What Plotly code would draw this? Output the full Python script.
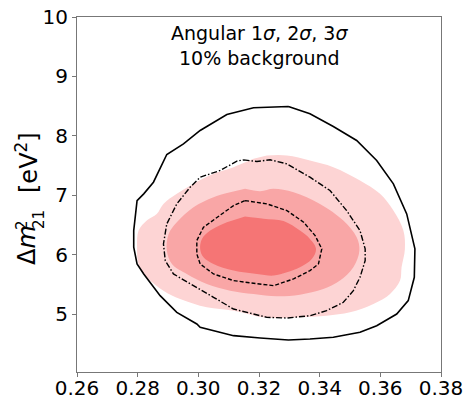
import plotly.graph_objects as go

# ---- data ----
outer_x = [0.3297, 0.3368, 0.3445, 0.3522, 0.3588, 0.3643, 0.3687, 0.3714, 0.3712, 0.3692, 0.3654, 0.3588,
           0.3533, 0.3445, 0.3368, 0.3297, 0.3204, 0.3116, 0.3006, 0.2995, 0.2929, 0.2874, 0.2820, 0.2798,
           0.2787, 0.2787, 0.2798, 0.2820, 0.2852, 0.2896, 0.2951, 0.3006, 0.3094, 0.3182, 0.3297]
outer_y = [8.496, 8.372, 8.159, 7.924, 7.587, 7.194, 6.689, 6.100, 5.623, 5.230, 5.005, 4.809,
           4.697, 4.613, 4.584, 4.568, 4.601, 4.641, 4.781, 4.837, 5.033, 5.314, 5.679, 5.847,
           6.128, 6.408, 6.913, 7.026, 7.222, 7.688, 7.867, 8.092, 8.361, 8.474, 8.496]

mid_x = [0.3149, 0.3193, 0.3237, 0.3292, 0.3368, 0.3434, 0.3489, 0.3533, 0.3550, 0.3550, 0.3533, 0.3511,
         0.3478, 0.3423, 0.3368, 0.3292, 0.3226, 0.3182, 0.3116, 0.3050, 0.2984, 0.2918, 0.2891, 0.2885,
         0.2896, 0.2929, 0.2973, 0.3006, 0.3072, 0.3127, 0.3149]
mid_y = [7.598, 7.570, 7.598, 7.531, 7.306, 7.082, 6.745, 6.408, 6.100, 5.904, 5.623, 5.398,
         5.202, 5.062, 4.977, 4.938, 4.949, 5.005, 5.089, 5.286, 5.482, 5.679, 5.903, 6.184,
         6.521, 6.857, 7.138, 7.306, 7.419, 7.576, 7.598]

inner_x = [0.3154, 0.3226, 0.3292, 0.3347, 0.3385, 0.3407, 0.3396, 0.3368, 0.3314, 0.3248, 0.3182, 0.3116,
           0.3050, 0.3006, 0.2995, 0.2995, 0.3017, 0.3061, 0.3116, 0.3154]
inner_y = [6.913, 6.857, 6.745, 6.549, 6.324, 6.100, 5.847, 5.735, 5.595, 5.482, 5.522, 5.567,
           5.679, 5.847, 6.016, 6.240, 6.465, 6.633, 6.829, 6.913]

fill3_x = [0.3226, 0.3292, 0.3368, 0.3445, 0.3533, 0.3599, 0.3643, 0.3676, 0.3681, 0.3670, 0.3665, 0.3632,
           0.3577, 0.3500, 0.3423, 0.3335, 0.3270, 0.3215, 0.3116, 0.3028, 0.2940, 0.2885, 0.2830, 0.2803,
           0.2798, 0.2803, 0.2830, 0.2863, 0.2885, 0.2929, 0.2984, 0.3050, 0.3116, 0.3182]
fill3_y = [7.671, 7.671, 7.587, 7.475, 7.250, 7.026, 6.745, 6.408, 6.100, 5.791, 5.567, 5.342,
           5.174, 5.033, 4.977, 4.949, 4.938, 4.949, 5.062, 5.118, 5.258, 5.398, 5.623, 5.847,
           6.128, 6.408, 6.577, 6.689, 6.857, 7.026, 7.194, 7.362, 7.475, 7.615]

fill2_x = [0.3154, 0.3204, 0.3248, 0.3314, 0.3401, 0.3478, 0.3522, 0.3531, 0.3511, 0.3467, 0.3412, 0.3335,
           0.3259, 0.3182, 0.3105, 0.3028, 0.2962, 0.2913, 0.2896, 0.2902, 0.2929, 0.2984, 0.3050, 0.3105]
fill2_y = [7.110, 7.071, 7.110, 7.054, 6.857, 6.577, 6.296, 6.072, 5.791, 5.567, 5.426, 5.331,
           5.303, 5.342, 5.398, 5.510, 5.679, 5.847, 6.072, 6.352, 6.549, 6.801, 6.970, 7.054]

fill1_x = [0.3154, 0.3215, 0.3281, 0.3335, 0.3368, 0.3388, 0.3374, 0.3335, 0.3292, 0.3248, 0.3193, 0.3116,
           0.3050, 0.3017, 0.3006, 0.3012, 0.3039, 0.3094]
fill1_y = [6.647, 6.609, 6.570, 6.408, 6.268, 6.100, 5.931, 5.791, 5.707, 5.651, 5.679, 5.735,
           5.847, 5.959, 6.100, 6.268, 6.408, 6.549]

x_ticks = [0.26, 0.28, 0.30, 0.32, 0.34, 0.36, 0.38]
y_ticks = [5, 6, 7, 8, 9, 10]
title_lines = ["Angular 1<i>σ</i>, 2<i>σ</i>, 3<i>σ</i>", "10% background"]

FONT = "DejaVu Sans"
fig = go.Figure()

for xs, ys, col in [(fill3_x, fill3_y, "#fdd4d4"), (fill2_x, fill2_y, "#f9a6a6"), (fill1_x, fill1_y, "#f57575")]:
    fig.add_trace(go.Scatter(x=xs, y=ys, fill="toself", fillcolor=col, mode="lines",
                             line=dict(width=0, color=col), line_shape="spline",
                             hoverinfo="skip", showlegend=False))

fig.add_trace(go.Scatter(x=outer_x, y=outer_y, mode="lines", line=dict(color="black", width=1.6),
                         showlegend=False))
fig.add_trace(go.Scatter(x=mid_x, y=mid_y, mode="lines",
                         line=dict(color="black", width=1.4, dash="6px,2px,1.5px,2px"), showlegend=False))
fig.add_trace(go.Scatter(x=inner_x, y=inner_y, mode="lines",
                         line=dict(color="black", width=1.4, dash="4px,2px"), showlegend=False))

axis_common = dict(showgrid=False, zeroline=False, showline=True, mirror=True, linecolor="#777777",
                   linewidth=1.2, ticks="outside", ticklen=4, tickwidth=1, tickcolor="#777777",
                   automargin=False, tickfont=dict(family=FONT, size=20, color="black"))
fig.update_xaxes(range=[0.26, 0.38], tickvals=x_ticks, ticktext=[f"{v:.2f}" for v in x_ticks],
                 ticklabelstandoff=-6, **axis_common)
fig.update_yaxes(range=[4.03, 10], tickvals=y_ticks, ticktext=[str(v) for v in y_ticks], **axis_common)

# title lines inside plot
fig.add_annotation(text=title_lines[0], xref="paper", yref="paper", x=0.5, y=(372 - 33) / 355,
                   showarrow=False, font=dict(family=FONT, size=19, color="black"), yanchor="middle")
fig.add_annotation(text=title_lines[1], xref="paper", yref="paper", x=0.5, y=(372 - 58) / 355,
                   showarrow=False, font=dict(family=FONT, size=19, color="black"), yanchor="middle")

# y-axis label assembled from pieces (stacked super/subscript)
def px_to_paper(px, py):
    return (px - 77) / 364, (372 - py) / 355

lab = [("Δ<i>m</i>", 27, 245, 24), ("2", 22, 225, 15), ("21", 39, 220, 15), ("[eV<sup>2</sup>]", 27, 162, 24)]
for txt, px, py, sz in lab:
    xp, yp = px_to_paper(px, py)
    fig.add_annotation(text=txt, xref="paper", yref="paper", x=xp, y=yp, showarrow=False, textangle=-90,
                       font=dict(family=FONT, size=sz, color="black"), xanchor="center", yanchor="middle")

fig.update_layout(width=468, height=399, margin=dict(l=77, r=27, t=17, b=27),
                  paper_bgcolor="white", plot_bgcolor="white")
fig.write_html("out.html")
